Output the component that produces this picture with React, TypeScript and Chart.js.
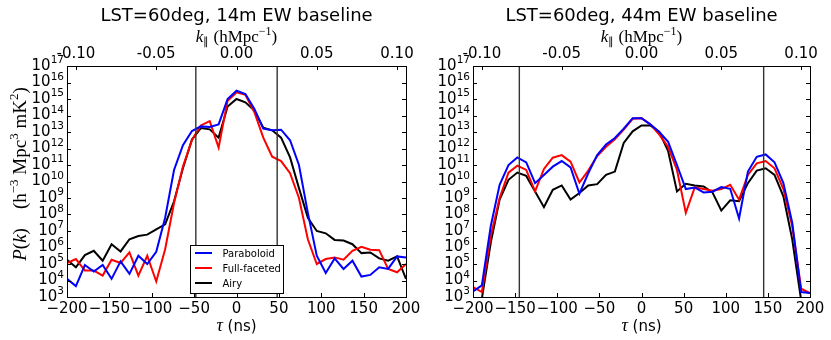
import React, { useEffect, useRef } from 'react';
import { Chart, registerables } from 'chart.js';

Chart.register(...registerables);

// delay axis (ns)
const TAU_NS = [
  -200, -189.5, -178.9, -168.4, -157.9, -147.4, -136.8, -126.3, -115.8, -105.3,
  -94.7, -84.2, -73.7, -63.2, -52.6, -42.1, -31.6, -21.1, -10.5, 0,
  10.5, 21.1, 31.6, 42.1, 52.6, 63.2, 73.7, 84.2, 94.7, 105.3,
  115.8, 126.3, 136.8, 147.4, 157.9, 168.4, 178.9, 189.5, 200,
];
const TAU_TICKS = [-200, -150, -100, -50, 0, 50, 100, 150, 200];
const K_TICKS = [-0.1, -0.05, 0, 0.05, 0.1];
const K_PER_NS = 0.000528;
const Y_DECADES = [3, 4, 5, 6, 7, 8, 9, 10, 11, 12, 13, 14, 15, 16, 17];

// log10 P(k), 14m baseline
const PARA_14 = [4.1, 3.66, 4.94, 4.54, 4.94, 4.1, 5.16, 4.4, 5.5, 5.0, 5.74, 7.8, 10.7, 12.2, 13.06, 13.34, 13.3, 13.46, 15.0, 15.5, 15.3, 14.4, 13.2, 13.1, 13.14, 12.5, 11.0, 8.1, 5.5, 4.46, 5.34, 4.7, 5.2, 4.24, 4.34, 4.8, 4.7, 5.46, 5.4];
const FULL_14 = [5.06, 5.3, 4.6, 4.6, 4.3, 5.26, 5.06, 5.7, 4.3, 5.5, 3.94, 5.9, 8.7, 10.9, 12.5, 13.4, 13.66, 12.06, 14.9, 15.4, 15.26, 14.2, 12.66, 11.5, 11.24, 10.5, 9.0, 6.5, 5.0, 5.3, 5.4, 5.26, 5.8, 6.04, 5.86, 5.84, 4.7, 4.5, 5.0];
const AIRY_14 = [5.26, 4.8, 5.54, 5.8, 5.2, 6.2, 5.76, 6.5, 6.7, 6.78, 7.1, 7.4, 8.8, 10.8, 12.54, 13.24, 13.16, 12.66, 14.54, 15.0, 14.8, 14.3, 13.26, 13.1, 12.66, 11.46, 9.6, 7.8, 7.0, 6.86, 6.46, 6.42, 6.2, 5.66, 5.7, 5.34, 5.2, 5.46, 4.1];

// log10 P(k), 44m baseline
const PARA_44 = [3.34, 3.7, 7.3, 9.8, 11.0, 11.46, 11.16, 9.9, 10.4, 10.9, 11.24, 10.86, 9.26, 10.5, 11.6, 12.24, 12.64, 13.2, 13.84, 13.84, 13.46, 13.0, 12.4, 11.0, 9.54, 9.64, 9.34, 9.38, 9.66, 9.56, 7.76, 10.6, 11.5, 11.64, 11.16, 9.9, 7.5, 3.3, 3.24];
const FULL_44 = [3.6, 3.3, 6.7, 9.0, 10.54, 10.96, 10.7, 9.4, 10.76, 11.44, 11.6, 11.2, 9.94, 10.66, 11.54, 12.1, 12.56, 13.14, 13.8, 13.84, 13.46, 12.84, 12.1, 10.7, 8.1, 9.64, 9.54, 9.44, 9.54, 9.8, 8.9, 10.4, 11.1, 11.24, 10.8, 9.54, 7.3, 3.5, 3.24];
const AIRY_44 = [2.5, 2.9, 6.3, 8.9, 10.1, 10.54, 10.34, 9.4, 8.44, 9.5, 9.76, 8.9, 9.3, 9.76, 9.84, 10.4, 10.6, 12.34, 13.04, 13.4, 13.4, 13.0, 11.84, 9.4, 9.86, 9.76, 9.7, 9.34, 8.24, 8.86, 8.8, 9.9, 10.66, 10.8, 10.4, 9.1, 6.5, 2.8, 2.5];

const HORIZON_14 = [-48, 48];
const HORIZON_44 = [-145, 145];

const SERIES_NAMES = ['Paraboloid', 'Full-faceted', 'Airy'];
const SERIES_COLORS = ['#0000ff', '#ff0000', '#000000'];

const SANS = 'DejaVu Sans';
const SERIF = 'Liberation Serif';

type Seg = { t: string; f: string; dy?: number };

function drawSegs(ctx: CanvasRenderingContext2D, segs: Seg[], x: number, y: number, align: 'left' | 'center' | 'right') {
  let total = 0;
  const widths = segs.map((s) => {
    ctx.font = s.f;
    const w = ctx.measureText(s.t).width;
    total += w;
    return w;
  });
  let cx = align === 'center' ? x - total / 2 : align === 'right' ? x - total : x;
  ctx.textAlign = 'left';
  ctx.textBaseline = 'alphabetic';
  segs.forEach((s, i) => {
    ctx.font = s.f;
    ctx.fillText(s.t, cx, y + (s.dy || 0));
    cx += widths[i];
  });
}

type Panel = {
  series: number[][];
  horizon: number[];
  title: string;
  padL: number;
  padR: number;
  yW: number;
  yTitle: boolean;
  legend: boolean;
};

function makeDecor(p: Panel) {
  return {
    id: 'decor',
    afterDatasetsDraw(chart: any) {
      const ctx = chart.ctx as CanvasRenderingContext2D;
      const a = chart.chartArea;
      const xs = chart.scales.x;
      ctx.save();
      ctx.strokeStyle = '#333333';
      ctx.lineWidth = 1.4;
      p.horizon.forEach((t) => {
        const px = xs.getPixelForValue(t);
        ctx.beginPath();
        ctx.moveTo(px, a.top);
        ctx.lineTo(px, a.bottom);
        ctx.stroke();
      });
      ctx.restore();
    },
    afterDraw(chart: any) {
      const ctx = chart.ctx as CanvasRenderingContext2D;
      const a = chart.chartArea;
      const xs = chart.scales.x;
      const xt = chart.scales.xTop;
      const ys = chart.scales.y;
      ctx.save();
      // frame
      ctx.strokeStyle = '#000';
      ctx.lineWidth = 1;
      ctx.strokeRect(Math.round(a.left) + 0.5, Math.round(a.top) + 0.5, Math.round(a.right - a.left), Math.round(a.bottom - a.top));
      // inward ticks
      const TL = 4;
      ctx.beginPath();
      TAU_TICKS.forEach((t) => {
        const px = Math.round(xs.getPixelForValue(t)) + 0.5;
        ctx.moveTo(px, a.bottom);
        ctx.lineTo(px, a.bottom - TL);
      });
      K_TICKS.forEach((k) => {
        const px = Math.round(xt.getPixelForValue(k)) + 0.5;
        ctx.moveTo(px, a.top);
        ctx.lineTo(px, a.top + TL);
      });
      Y_DECADES.forEach((e) => {
        const py = Math.round(ys.getPixelForValue(Math.pow(10, e))) + 0.5;
        ctx.moveTo(a.left, py);
        ctx.lineTo(a.left + TL, py);
        ctx.moveTo(a.right, py);
        ctx.lineTo(a.right - TL, py);
      });
      ctx.stroke();
      // y tick labels
      ctx.fillStyle = '#000';
      Y_DECADES.forEach((e) => {
        const py = ys.getPixelForValue(Math.pow(10, e));
        drawSegs(ctx, [
          { t: '10', f: `15px "${SANS}"` },
          { t: String(e), f: `10.5px "${SANS}"`, dy: -6.5 },
        ], a.left - 3, py + 3.5, 'right');
      });
      const cx = (a.left + a.right) / 2;
      // title
      drawSegs(ctx, [{ t: p.title, f: `18px "${SANS}"` }], cx, 20.5, 'center');
      // top axis label
      drawSegs(ctx, [
        { t: 'k', f: `italic 17px "${SERIF}"` },
        { t: '\u2225', f: `11px "${SERIF}"`, dy: 3 },
        { t: ' (hMpc', f: `17px "${SERIF}"` },
        { t: '\u22121', f: `12px "${SERIF}"`, dy: -7 },
        { t: ')', f: `17px "${SERIF}"` },
      ], cx, 41.5, 'center');
      // bottom axis label
      drawSegs(ctx, [
        { t: '\u03c4', f: `italic 18px "${SERIF}"` },
        { t: ' (ns)', f: `15px "${SANS}"` },
      ], cx, 331, 'center');
      // y axis title
      if (p.yTitle) {
        ctx.save();
        ctx.translate(26, 174);
        ctx.rotate(-Math.PI / 2);
        drawSegs(ctx, [
          { t: 'P', f: `italic 19px "${SERIF}"` },
          { t: '(', f: `19px "${SERIF}"` },
          { t: 'k', f: `italic 19px "${SERIF}"` },
          { t: ')    (h', f: `19px "${SERIF}"` },
          { t: '\u22123', f: `13px "${SERIF}"`, dy: -8 },
          { t: ' Mpc', f: `19px "${SERIF}"` },
          { t: '3', f: `13px "${SERIF}"`, dy: -8 },
          { t: ' mK', f: `19px "${SERIF}"` },
          { t: '2', f: `13px "${SERIF}"`, dy: -8 },
          { t: ')', f: `19px "${SERIF}"` },
        ], 0, 0, 'center');
        ctx.restore();
      }
      // legend
      if (p.legend) {
        const bx = 190.5, by = 245.5, bw = 93, bh = 48;
        ctx.fillStyle = '#fff';
        ctx.fillRect(bx, by, bw, bh);
        ctx.strokeStyle = '#000';
        ctx.lineWidth = 1;
        ctx.strokeRect(bx, by, bw, bh);
        SERIES_NAMES.forEach((name, i) => {
          const ly = 253 + i * 15;
          ctx.strokeStyle = SERIES_COLORS[i];
          ctx.lineWidth = 2;
          ctx.beginPath();
          ctx.moveTo(195, ly);
          ctx.lineTo(212, ly);
          ctx.stroke();
          ctx.fillStyle = '#000';
          drawSegs(ctx, [{ t: name, f: `10px "${SANS}"` }], 222.5, ly + 3.6, 'left');
        });
      }
      ctx.restore();
    },
  };
}

function fmtTau(v: number) {
  return v < 0 ? '\u2212' + Math.abs(v) : String(v);
}
function fmtK(v: number) {
  const s = Math.abs(v).toFixed(2);
  return v < -1e-9 ? '-' + s : s;
}

function makeConfig(p: Panel): any {
  const tickFont = { family: SANS, size: 15 };
  return {
    type: 'line',
    data: {
      datasets: p.series.map((vals, i) => ({
        label: SERIES_NAMES[i],
        data: TAU_NS.map((t, j) => ({ x: t, y: Math.pow(10, vals[j]) })),
        borderColor: SERIES_COLORS[i],
        backgroundColor: SERIES_COLORS[i],
        borderWidth: 2,
        pointRadius: 0,
        fill: false,
        tension: 0,
      })),
    },
    options: {
      animation: false,
      responsive: false,
      devicePixelRatio: 1,
      events: [],
      layout: { padding: { left: p.padL, right: p.padR, top: 0, bottom: 0 } },
      plugins: {
        legend: { display: false },
        title: { display: false },
        tooltip: { enabled: false },
      },
      scales: {
        x: {
          type: 'linear',
          position: 'bottom',
          min: -200,
          max: 200,
          grid: { display: false },
          border: { display: false },
          afterBuildTicks: (s: any) => { s.ticks = TAU_TICKS.map((v) => ({ value: v })); },
          ticks: {
            font: tickFont,
            color: '#000',
            padding: -5,
            autoSkip: false,
            maxRotation: 0,
            minRotation: 0,
            callback: (v: number) => fmtTau(v),
          },
          afterFit: (s: any) => { s.height = 43; },
        },
        xTop: {
          type: 'linear',
          position: 'top',
          min: -200 * K_PER_NS,
          max: 200 * K_PER_NS,
          grid: { display: false },
          border: { display: false },
          afterBuildTicks: (s: any) => { s.ticks = K_TICKS.map((v) => ({ value: v })); },
          ticks: {
            font: tickFont,
            color: '#000',
            padding: -5,
            autoSkip: false,
            maxRotation: 0,
            minRotation: 0,
            callback: (v: number) => fmtK(v),
          },
          afterFit: (s: any) => { s.height = 66; },
        },
        y: {
          type: 'logarithmic',
          min: 1e3,
          max: 1e17,
          grid: { display: false },
          border: { display: false },
          ticks: { display: false },
          afterBuildTicks: (s: any) => { s.ticks = Y_DECADES.map((e) => ({ value: Math.pow(10, e) })); },
          afterFit: (s: any) => { s.width = p.yW; },
        },
      },
    },
    plugins: [makeDecor(p)],
  };
}

const PANEL_14: Panel = {
  series: [PARA_14, FULL_14, AIRY_14],
  horizon: HORIZON_14,
  title: 'LST=60deg, 14m EW baseline',
  padL: 0,
  padR: 425,
  yW: 67,
  yTitle: true,
  legend: true,
};
const PANEL_44: Panel = {
  series: [PARA_44, FULL_44, AIRY_44],
  horizon: HORIZON_44,
  title: 'LST=60deg, 44m EW baseline',
  padL: 415,
  padR: 21,
  yW: 58,
  yTitle: false,
  legend: false,
};

function PanelCanvas({ panel }: { panel: Panel }) {
  const ref = useRef<HTMLCanvasElement | null>(null);
  useEffect(() => {
    if (!ref.current) return;
    const chart = new Chart(ref.current, makeConfig(panel));
    return () => chart.destroy();
  }, [panel]);
  return (
    <canvas
      ref={ref}
      width={831}
      height={340}
      style={{ position: 'absolute', left: 0, top: 0, width: 831, height: 340 }}
    />
  );
}

export default function App() {
  return (
    <div style={{ position: 'fixed', left: 0, top: 0, width: 831, height: 340, background: '#fff' }}>
      <PanelCanvas panel={PANEL_14} />
      <PanelCanvas panel={PANEL_44} />
    </div>
  );
}
